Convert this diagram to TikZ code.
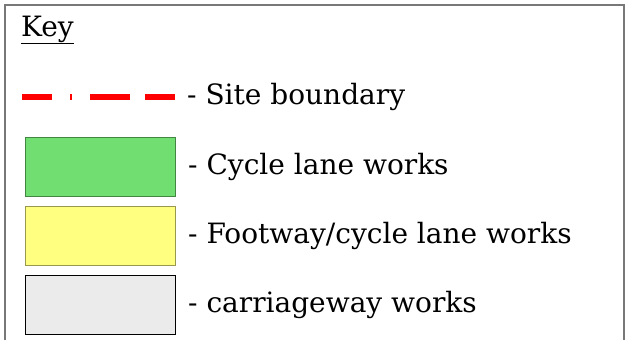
\documentclass[tikz,border=0pt]{standalone}
\usepackage{fontspec}
\setmainfont{DejaVu Serif}
\usetikzlibrary{positioning}
\definecolor{frameg}{RGB}{120,120,120}
\definecolor{cyclegreen}{RGB}{112,222,112}
\definecolor{footyellow}{RGB}{255,255,128}
\definecolor{carrgrey}{RGB}{235,235,235}
\begin{document}
\begin{tikzpicture}[x=1pt,y=-1pt,
  swatch/.style={draw=#1!60!black,line width=1pt,minimum width=150pt,minimum height=59pt,inner sep=0pt,anchor=north west},
  keytext/.style={font=\fontsize{28}{33}\selectfont,anchor=west,inner sep=0pt}]
\useasboundingbox (0,0) rectangle (629,340);
\draw[frameg,line width=1.5pt] (5,340) -- (5,5) -- (624,5) -- (624,340);
\node[keytext,anchor=base west] (key) at (21,36) {\underline{Key}};
% site boundary
\coordinate (sbA) at (22,97);
\coordinate (sbB) at (175,97);
\draw[red,line width=6pt,dash pattern=on 30pt off 18pt on 2pt off 18pt on 40pt off 15pt on 30pt] (sbA) -- (sbB);
\node[keytext] (sbtext) at (187,97) {- Site boundary};
% works areas
\node[swatch=cyclegreen,fill=cyclegreen] (cycle) at (25,137) {};
\node[keytext,right=12pt of cycle] (cycletext) {- Cycle lane works};
\node[swatch=footyellow,fill=footyellow] (foot) at (25,206) {};
\node[keytext,right=12pt of foot] (foottext) {- Footway/cycle lane works};
\node[swatch=black,fill=carrgrey] (carr) at (25,275) {};
\node[keytext,right=12pt of carr] (carrtext) {- carriageway works};
\end{tikzpicture}
\end{document}
